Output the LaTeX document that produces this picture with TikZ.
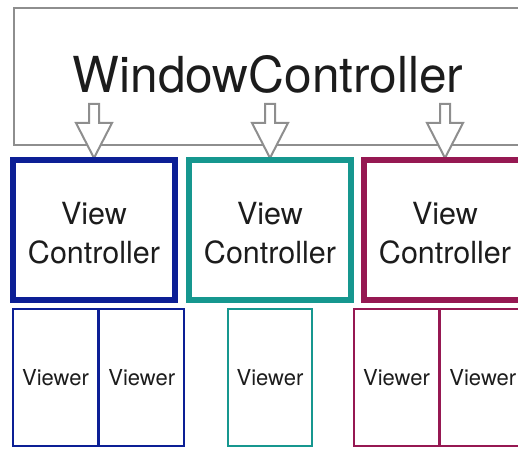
\documentclass[tikz,border=0pt]{standalone}
\usepackage{fontspec}
\setmainfont{TeX Gyre Heros}
\usetikzlibrary{calc}
\definecolor{wcgray}{HTML}{8E8E8E}
\definecolor{vcblue}{HTML}{0C1F95}
\definecolor{vcteal}{HTML}{16978F}
\definecolor{vcmag}{HTML}{961852}
\definecolor{txt}{HTML}{1C1C1C}
\begin{document}
\begin{tikzpicture}[x=1pt,y=-1pt,
  wcbox/.style={draw=wcgray,line width=2pt,minimum width=526pt,minimum height=137pt,inner sep=0pt},
  wctext/.style={text=txt,font=\fontsize{49.6}{55}\selectfont,inner sep=0pt},
  harrow/.style={draw=wcgray,fill=white,line width=2pt,line join=miter},
  vcbox/.style={line width=5.5pt,minimum width=162pt,minimum height=140pt,inner sep=0pt,align=center,text=txt,font=\fontsize{30.5}{39}\selectfont},
  viewer/.style={line width=2pt,minimum width=85pt,minimum height=137pt,inner sep=0pt,text=txt,font=\fontsize{22}{26}\selectfont}]
\useasboundingbox (0,0) rectangle (518,449);
\clip (0,0) rectangle (518,449);
% window controller
\node[wcbox] (wc) at (277,76.5) {};
\node[wctext,anchor=base] (wct) at (268,93) {WindowController};
% centres of the view controllers
\path (94,230) coordinate (c1) (270,230) coordinate (c2) (445,230) coordinate (c3);
% hollow arrows
\foreach \c in {c1,c2,c3}{
  \draw[harrow] ($(\c)+(0,-72)$) -- ++(-18,-35) -- ++(13,0) -- ++(0,-19) -- ++(10,0) -- ++(0,19) -- ++(13,0) -- cycle;
}
\node[vcbox,draw=vcblue] (vc1) at (c1) {\rule{0pt}{28pt}View\\Controller};
\node[vcbox,draw=vcteal] (vc2) at (c2) {\rule{0pt}{28pt}View\\Controller};
\node[vcbox,draw=vcmag] (vc3) at (c3) {\rule{0pt}{28pt}View\\Controller};
% viewers
\node[viewer,draw=vcblue] (v11) at (55.5,377.5) {Viewer};
\node[viewer,draw=vcblue] (v12) at (141.8,377.5) {Viewer};
\node[viewer,draw=vcteal,minimum width=84pt] (v21) at (270,377.5) {Viewer};
\node[viewer,draw=vcmag] (v31) at (396.5,377.5) {Viewer};
\node[viewer,draw=vcmag] (v32) at (482.8,377.5) {Viewer};
\end{tikzpicture}
\end{document}
